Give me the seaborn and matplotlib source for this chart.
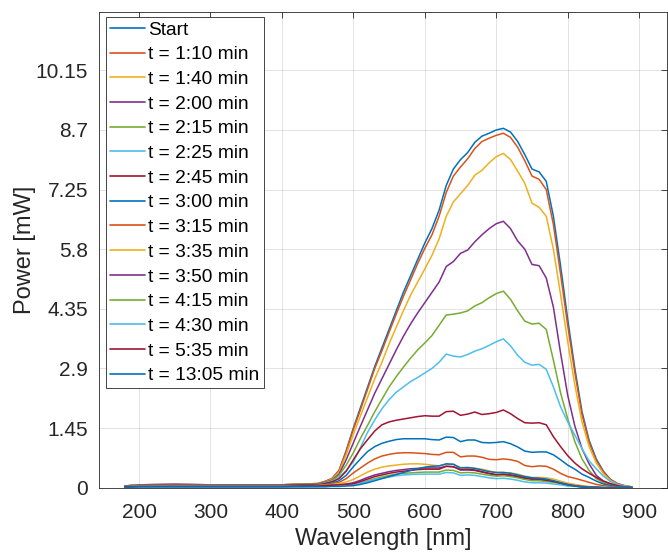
import matplotlib
matplotlib.use("Agg")
import matplotlib.pyplot as plt
import seaborn as sns
import pandas as pd

sns.set_style("white")
plt.rcParams['font.family'] = ['Liberation Sans', 'DejaVu Sans']

# wavelength grid [nm]
wavelength = [180, 200, 250, 300, 350, 400, 430, 450, 460, 470, 480, 490, 500, 510, 520, 530,
              540, 550, 560, 570, 580, 590, 600, 610, 620, 630, 640, 650, 660, 670, 680, 690,
              700, 710, 720, 730, 740, 750, 760, 770, 780, 790, 800, 810, 820, 830, 840, 850,
              860, 870, 880, 890]

# power [mW] per measurement
p_start = [0.04, 0.07, 0.08, 0.07, 0.07, 0.07, 0.09, 0.1, 0.15, 0.22, 0.42, 0.9, 1.45, 1.95, 2.45, 2.95,
           3.4, 3.85, 4.3, 4.75, 5.15, 5.55, 5.95, 6.3, 6.75, 7.35, 7.75, 7.98, 8.15, 8.4, 8.55, 8.62,
           8.7, 8.74, 8.65, 8.42, 8.1, 7.75, 7.68, 7.45, 6.6, 5.4, 4.1, 2.9, 1.85, 1.15, 0.7, 0.4,
           0.2, 0.1, 0.05, 0.02]
p_0110 = [0.04, 0.07, 0.08, 0.07, 0.07, 0.07, 0.09, 0.1, 0.15, 0.22, 0.42, 0.88, 1.42, 1.9, 2.4, 2.9,
          3.33, 3.78, 4.22, 4.65, 5.05, 5.45, 5.82, 6.15, 6.6, 7.18, 7.58, 7.8, 8.0, 8.25, 8.42, 8.5,
          8.57, 8.62, 8.52, 8.28, 7.95, 7.58, 7.5, 7.25, 6.4, 5.2, 3.95, 2.8, 1.78, 1.1, 0.66, 0.38,
          0.19, 0.09, 0.04, 0.02]
p_0140 = [0.04, 0.07, 0.08, 0.07, 0.07, 0.07, 0.09, 0.1, 0.14, 0.2, 0.38, 0.8, 1.3, 1.75, 2.2, 2.65,
          3.05, 3.5, 3.9, 4.3, 4.68, 5.0, 5.32, 5.65, 6.05, 6.6, 6.95, 7.15, 7.35, 7.6, 7.72, 7.9,
          8.05, 8.13, 7.98, 7.7, 7.4, 6.92, 6.82, 6.6, 5.8, 4.7, 3.55, 2.5, 1.6, 1.0, 0.6, 0.34,
          0.17, 0.08, 0.04, 0.02]
p_0200 = [0.04, 0.07, 0.08, 0.07, 0.07, 0.07, 0.08, 0.09, 0.13, 0.18, 0.33, 0.68, 1.09, 1.5, 1.9, 2.3,
          2.65, 3.0, 3.35, 3.68, 3.98, 4.25, 4.5, 4.75, 5.0, 5.38, 5.5, 5.7, 5.78, 5.98, 6.15, 6.3,
          6.42, 6.48, 6.3, 6.0, 5.8, 5.43, 5.4, 5.1, 4.39, 3.28, 2.25, 1.5, 0.95, 0.58, 0.3, 0.16,
          0.08, 0.04, 0.02, 0.01]
p_0215 = [0.04, 0.07, 0.07, 0.07, 0.07, 0.07, 0.08, 0.08, 0.12, 0.17, 0.3, 0.55, 0.85, 1.2, 1.52, 1.85,
          2.15, 2.45, 2.7, 2.93, 3.15, 3.35, 3.52, 3.7, 3.95, 4.2, 4.22, 4.25, 4.3, 4.42, 4.5, 4.62,
          4.72, 4.78, 4.58, 4.3, 4.05, 3.98, 4.0, 3.85, 3.1, 2.31, 1.68, 1.12, 0.7, 0.42, 0.22, 0.12,
          0.06, 0.03, 0.02, 0.01]
p_0225 = [0.04, 0.07, 0.07, 0.07, 0.07, 0.07, 0.07, 0.07, 0.1, 0.15, 0.25, 0.42, 0.63, 0.98, 1.35, 1.65,
          1.92, 2.14, 2.32, 2.45, 2.58, 2.68, 2.79, 2.9, 3.05, 3.25, 3.2, 3.18, 3.24, 3.32, 3.38, 3.46,
          3.55, 3.62, 3.45, 3.22, 3.05, 2.98, 3.0, 2.88, 2.45, 1.97, 1.6, 1.28, 0.95, 0.65, 0.46, 0.28,
          0.15, 0.07, 0.03, 0.01]
p_0245 = [0.03, 0.06, 0.06, 0.06, 0.06, 0.06, 0.07, 0.07, 0.1, 0.14, 0.22, 0.4, 0.68, 0.95, 1.17, 1.38,
          1.53, 1.6, 1.64, 1.67, 1.7, 1.73, 1.75, 1.74, 1.74, 1.85, 1.86, 1.76, 1.79, 1.84, 1.78, 1.8,
          1.83, 1.89, 1.8, 1.68, 1.58, 1.57, 1.58, 1.53, 1.24, 1.0, 0.78, 0.6, 0.46, 0.35, 0.25, 0.16,
          0.1, 0.05, 0.02, 0.01]
p_0300 = [0.03, 0.05, 0.05, 0.05, 0.05, 0.05, 0.06, 0.06, 0.08, 0.11, 0.17, 0.3, 0.51, 0.7, 0.88, 1.0,
          1.08, 1.13, 1.17, 1.19, 1.19, 1.19, 1.19, 1.17, 1.16, 1.23, 1.22, 1.12, 1.16, 1.16, 1.1, 1.09,
          1.1, 1.12, 1.07, 0.99, 0.89, 0.86, 0.87, 0.87, 0.8, 0.68, 0.55, 0.45, 0.33, 0.25, 0.16, 0.09,
          0.05, 0.02, 0.01, 0.0]
p_0315 = [0.03, 0.05, 0.05, 0.05, 0.05, 0.05, 0.05, 0.05, 0.07, 0.09, 0.13, 0.22, 0.36, 0.48, 0.6, 0.7,
          0.77, 0.81, 0.84, 0.85, 0.85, 0.84, 0.83, 0.81, 0.8, 0.86, 0.86, 0.75, 0.77, 0.77, 0.74, 0.69,
          0.68, 0.7, 0.68, 0.64, 0.54, 0.51, 0.53, 0.52, 0.45, 0.35, 0.27, 0.23, 0.18, 0.13, 0.08, 0.05,
          0.03, 0.01, 0.0, 0.0]
p_0335 = [0.02, 0.04, 0.04, 0.04, 0.04, 0.04, 0.04, 0.05, 0.06, 0.08, 0.1, 0.14, 0.2, 0.29, 0.38, 0.45,
          0.5, 0.53, 0.55, 0.57, 0.58, 0.58, 0.57, 0.55, 0.53, 0.57, 0.57, 0.49, 0.49, 0.47, 0.45, 0.41,
          0.37, 0.37, 0.36, 0.33, 0.28, 0.25, 0.25, 0.24, 0.21, 0.16, 0.11, 0.08, 0.05, 0.03, 0.02, 0.01,
          0.0, 0.0, 0.0, 0.0]
p_0350 = [0.02, 0.03, 0.03, 0.03, 0.03, 0.03, 0.04, 0.04, 0.05, 0.06, 0.07, 0.09, 0.12, 0.18, 0.25, 0.31,
          0.35, 0.39, 0.42, 0.44, 0.46, 0.47, 0.48, 0.48, 0.48, 0.52, 0.51, 0.43, 0.43, 0.42, 0.38, 0.34,
          0.31, 0.32, 0.3, 0.27, 0.23, 0.2, 0.2, 0.19, 0.16, 0.12, 0.08, 0.05, 0.03, 0.02, 0.01, 0.0,
          0.0, 0.0, 0.0, 0.0]
p_0415 = [0.02, 0.03, 0.03, 0.03, 0.03, 0.03, 0.03, 0.04, 0.04, 0.05, 0.06, 0.07, 0.08, 0.12, 0.17, 0.22,
          0.26, 0.3, 0.33, 0.35, 0.36, 0.37, 0.38, 0.38, 0.38, 0.43, 0.42, 0.36, 0.37, 0.36, 0.33, 0.3,
          0.28, 0.29, 0.27, 0.24, 0.2, 0.17, 0.17, 0.15, 0.13, 0.1, 0.06, 0.04, 0.02, 0.01, 0.01, 0.0,
          0.0, 0.0, 0.0, 0.0]
p_0430 = [0.02, 0.03, 0.03, 0.03, 0.03, 0.03, 0.03, 0.03, 0.04, 0.05, 0.05, 0.06, 0.07, 0.11, 0.15, 0.2,
          0.23, 0.26, 0.29, 0.31, 0.32, 0.33, 0.33, 0.33, 0.33, 0.37, 0.36, 0.3, 0.31, 0.3, 0.27, 0.24,
          0.22, 0.23, 0.21, 0.18, 0.14, 0.12, 0.12, 0.11, 0.09, 0.07, 0.04, 0.03, 0.02, 0.01, 0.0, 0.0,
          0.0, 0.0, 0.0, 0.0]
p_0535 = [0.02, 0.03, 0.03, 0.03, 0.03, 0.03, 0.04, 0.04, 0.05, 0.06, 0.07, 0.08, 0.1, 0.15, 0.21, 0.27,
          0.31, 0.35, 0.38, 0.4, 0.42, 0.44, 0.45, 0.45, 0.45, 0.52, 0.51, 0.44, 0.45, 0.43, 0.39, 0.35,
          0.32, 0.33, 0.31, 0.28, 0.24, 0.22, 0.21, 0.18, 0.15, 0.11, 0.07, 0.04, 0.02, 0.01, 0.01, 0.0,
          0.0, 0.0, 0.0, 0.0]
p_1305 = [0.01, 0.02, 0.02, 0.02, 0.02, 0.02, 0.02, 0.02, 0.02, 0.03, 0.03, 0.04, 0.05, 0.08, 0.12, 0.17,
          0.22, 0.27, 0.32, 0.37, 0.42, 0.46, 0.5, 0.52, 0.53, 0.58, 0.57, 0.48, 0.49, 0.47, 0.43, 0.39,
          0.37, 0.37, 0.35, 0.31, 0.27, 0.24, 0.23, 0.21, 0.17, 0.12, 0.07, 0.04, 0.02, 0.01, 0.0, 0.0,
          0.0, 0.0, 0.0, 0.0]

labels = ['Start', 't = 1:10 min', 't = 1:40 min', 't = 2:00 min', 't = 2:15 min', 't = 2:25 min',
          't = 2:45 min', 't = 3:00 min', 't = 3:15 min', 't = 3:35 min', 't = 3:50 min',
          't = 4:15 min', 't = 4:30 min', 't = 5:35 min', 't = 13:05 min']
series = [p_start, p_0110, p_0140, p_0200, p_0215, p_0225, p_0245, p_0300, p_0315,
          p_0335, p_0350, p_0415, p_0430, p_0535, p_1305]

y_ticks = [0, 1.45, 2.9, 4.35, 5.8, 7.25, 8.7, 10.15]
y_tick_labels = ['0', '1.45', '2.9', '4.35', '5.8', '7.25', '8.7', '10.15']
x_ticks = [200, 300, 400, 500, 600, 700, 800, 900]

# MATLAB default line colour order
matlab_colors = ['#0072BD', '#D95319', '#EDB120', '#7E2F8E', '#77AC30', '#4DBEEE', '#A2142F']
palette = [matlab_colors[i % 7] for i in range(len(labels))]

frames = []
for lab, vals in zip(labels, series):
    frames.append(pd.DataFrame({'wavelength': wavelength, 'power': vals, 'series': lab}))
df = pd.concat(frames, ignore_index=True)

fig = plt.figure(figsize=(6.68, 5.52), dpi=100)
ax = fig.add_axes([0.1482, 0.1165, 0.8503, 0.8618])

sns.lineplot(data=df, x='wavelength', y='power', hue='series', hue_order=labels,
             palette=palette, linewidth=1.1, estimator=None, sort=False, ax=ax)

ax.set_xlim(144, 939)
ax.set_ylim(0, 11.57)
ax.set_xticks(x_ticks)
ax.set_yticks(y_ticks)
ax.set_yticklabels(y_tick_labels)

text_color = '#262626'
ax.tick_params(direction='in', length=4, width=0.6, colors=text_color, labelsize=15,
               top=True, right=True)
ax.tick_params(axis='x', pad=11)
ax.tick_params(axis='y', pad=8)
for s in ax.spines.values():
    s.set_color(text_color)
    s.set_linewidth(0.6)
ax.grid(True, color=text_color, alpha=0.15, linewidth=0.6)

ax.set_xlabel('Wavelength [nm]', fontsize=17, color=text_color, labelpad=4.5)
ax.set_ylabel('Power [mW]', fontsize=17, color=text_color, labelpad=-0.5)

old = ax.get_legend()
handles = old.legend_handles
names = [t.get_text() for t in old.get_texts()]
old.remove()
for h in handles:
    h.set_linewidth(1.2)
leg = ax.legend(handles, names, loc='upper left', bbox_to_anchor=(0.0118, 0.9889),
                borderaxespad=0, fontsize=13.8, frameon=True, fancybox=False,
                handlelength=1.83, handletextpad=0.2, labelspacing=0.38, borderpad=0.2)
leg.get_frame().set_edgecolor(text_color)
leg.get_frame().set_linewidth(0.6)
leg.get_frame().set_alpha(1)
for t in leg.get_texts():
    t.set_color('black')

fig.savefig('out.png', dpi=100)
